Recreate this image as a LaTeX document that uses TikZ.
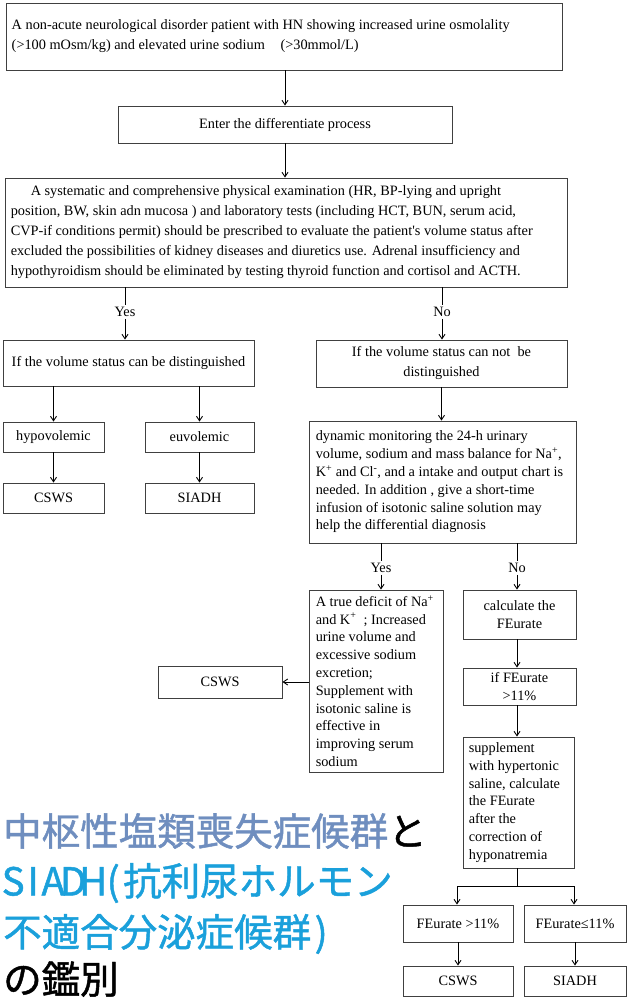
\documentclass[tikz,border=0pt]{standalone}
\usepackage{fontspec}
\setmainfont{Liberation Serif}
\newfontfamily\jpfont[FakeBold=1.2]{Noto Sans CJK JP}
\usetikzlibrary{arrows.meta}
\definecolor{jpgray}{HTML}{6F8EBF}
\definecolor{jpblue}{HTML}{1AA0DB}
\definecolor{boxline}{HTML}{404040}
\newcommand\hwc[1]{\makebox[20pt]{#1}}
\begin{document}
\begin{tikzpicture}[x=1pt,y=-1pt,
  bx/.style={draw=boxline, line width=0.9pt, inner sep=0pt, font=\fontsize{14.3}{20}\selectfont},
  sbx/.style={bx, font=\fontsize{14.3}{18}\selectfont},
  ltxt/.style={anchor=west, inner sep=0pt, align=left, font=\fontsize{14.3}{20}\selectfont},
  sltxt/.style={ltxt, font=\fontsize{14.3}{17.8}\selectfont},
  arr/.style={-{Straight Barb[length=4.5pt,width=6pt]}, line width=0.9pt},
  ln/.style={line width=0.9pt},
  lbl/.style={inner sep=2pt, font=\fontsize{14.3}{16}\selectfont},
  jp/.style={anchor=west, inner sep=0pt, font=\jpfont\fontsize{38.5}{40}\selectfont}]
\useasboundingbox (0,0) rectangle (629,1000);
\fill[white] (0,0) rectangle (629,1000);

% top part
\node[bx, minimum width=556pt, minimum height=67pt] (top) at (284,36.5) {};
\node[ltxt, xshift=6pt] (topt) at (top.west)
  {A non-acute neurological disorder patient with HN showing increased urine osmolality\\
   (>100 mOsm/kg) and elevated urine sodium\hspace{1.1em}(>30mmol/L)};
\node[bx, minimum width=334pt, minimum height=37pt, align=center] (enter) at (285,124.5)
  {Enter the differentiate process};
\node[bx, minimum width=562pt, minimum height=109pt] (big) at (286,232.5) {};
\node[ltxt, xshift=6pt] (bigt) at (big.west)
  {\hspace*{1.4em}A systematic and comprehensive physical examination (HR, BP-lying and upright\\
   position, BW, skin adn mucosa ) and laboratory tests (including HCT, BUN, serum acid,\\
   CVP-if conditions permit) should be prescribed to evaluate the patient\textquotesingle s volume status after\\
   excluded the possibilities of kidney diseases and diuretics use. Adrenal insufficiency and\\
   hypothyroidism should be eliminated by testing thyroid function and cortisol and ACTH.};

% labels
\node[lbl] (yes1) at (125,312) {Yes};
\node[lbl] (no1) at (442,312) {No};

% second level
\node[bx, minimum width=251pt, minimum height=46pt, align=center] (L1) at (128.5,363)
  {If the volume status can be distinguished};
\node[bx, minimum width=251pt, minimum height=47pt, align=center] (R1) at (441.5,363.5)
  {If the volume status can not\ \ be\\distinguished};

\node[bx, minimum width=101pt, minimum height=30pt] (hypo) at (53.5,437) {hypovolemic};
\node[bx, minimum width=109pt, minimum height=30pt] (eu) at (199.5,437) {euvolemic};
\node[bx, minimum width=101pt, minimum height=30pt] (cs1) at (53.5,498) {CSWS};
\node[bx, minimum width=109pt, minimum height=30pt] (si1) at (199.5,498) {SIADH};

\node[bx, minimum width=267pt, minimum height=122pt] (dyn) at (442.5,482) {};
\node[sltxt, xshift=7pt] (dynt) at (dyn.west)
  {dynamic monitoring the 24-h urinary\\
   volume, sodium and mass balance for Na\textsuperscript{+},\\
   K\textsuperscript{+} and Cl\textsuperscript{-}, and a intake and output chart is\\
   needed. In addition , give a short-time\\
   infusion of isotonic saline solution may\\
   help the differential diagnosis};

\node[lbl] (yes2) at (381,568) {Yes};
\node[lbl] (no2) at (517,568) {No};

\node[bx, minimum width=134pt, minimum height=182pt] (def) at (376,681) {};
\node[sltxt, xshift=7pt] (deft) at (def.west)
  {A true deficit of Na\textsuperscript{+}\\
   and K\textsuperscript{+}\ \ ; Increased\\
   urine volume and\\
   excessive sodium\\
   excretion;\\
   Supplement with\\
   isotonic saline is\\
   effective in\\
   improving serum\\
   sodium};
\node[bx, minimum width=124pt, minimum height=32pt] (cs2) at (220,682) {CSWS};

\node[sbx, minimum width=113pt, minimum height=49pt, align=center] (calc) at (519.5,614.5)
  {calculate the\\FEurate};
\node[sbx, minimum width=113pt, minimum height=37pt, align=center] (iff) at (519.5,686.5)
  {if FEurate\\>11\%};
\node[bx, minimum width=111pt, minimum height=131pt] (sup) at (518.5,802.5) {};
\node[sltxt, xshift=6pt] (supt) at (sup.west)
  {supplement\\with hypertonic\\saline, calculate\\the FEurate\\after the\\correction of\\hyponatremia};

\coordinate (sp) at (517,886);
\coordinate (spl) at (457,886);
\coordinate (spr) at (574,886);

\node[sbx, minimum width=110pt, minimum height=37pt] (feg) at (458,923.5) {FEurate >11\%};
\node[sbx, minimum width=102pt, minimum height=37pt] (fel) at (575,923.5) {FEurate≤11\%};
\node[sbx, minimum width=110pt, minimum height=30pt] (cs3) at (458,981) {CSWS};
\node[sbx, minimum width=102pt, minimum height=30pt] (si3) at (575,981) {SIADH};

% connectors
\draw[arr] (enter.north |- top.south) -- (enter.north);
\draw[arr] (enter.south) -- (enter.south |- big.north);
\draw[ln] (yes1.north |- big.south) -- (yes1.north);
\draw[arr] (yes1.south) -- (yes1.south |- L1.north);
\draw[ln] (no1.north |- big.south) -- (no1.north);
\draw[arr] (no1.south) -- (no1.south |- R1.north);
\draw[arr] (hypo.north |- L1.south) -- (hypo.north);
\draw[arr] (eu.north |- L1.south) -- (eu.north);
\draw[arr] (hypo.south) -- (cs1.north);
\draw[arr] (eu.south) -- (si1.north);
\draw[arr] (R1.south) -- (R1.south |- dyn.north);
\draw[ln] (yes2.north |- dyn.south) -- (yes2.north);
\draw[arr] (yes2.south) -- (yes2.south |- def.north);
\draw[ln] (no2.north |- dyn.south) -- (no2.north);
\draw[arr] (no2.south) -- (no2.south |- calc.north);
\draw[arr] (def.west |- cs2.east) -- (cs2.east);
\draw[arr] (sp |- calc.south) -- (sp |- iff.north);
\draw[arr] (sp |- iff.south) -- (sp |- sup.north);
\draw[ln] (sp |- sup.south) -- (sp);
\draw[ln] (spl) -- (spr);
\draw[arr] (spl) -- (spl |- feg.north);
\draw[arr] (spr) -- (spr |- fel.north);
\draw[arr] (feg.south) -- (cs3.north);
\draw[arr] (fel.south) -- (si3.north);

% Japanese title
\node[jp] (j1) at (3,831) {\color{jpgray}中枢性塩類喪失症候群\color{black}と};
\node[jp, text=jpblue] (j2) at (3,883) {\hwc{S}\hwc{I}\hwc{A}\hwc{D}\hwc{H}\hwc{(}抗利尿ホルモン};
\node[jp, text=jpblue] (j3) at (3,934) {不適合分泌症候群\hwc{)}};
\node[jp] (j4) at (3,979) {の鑑別};
\end{tikzpicture}
\end{document}
